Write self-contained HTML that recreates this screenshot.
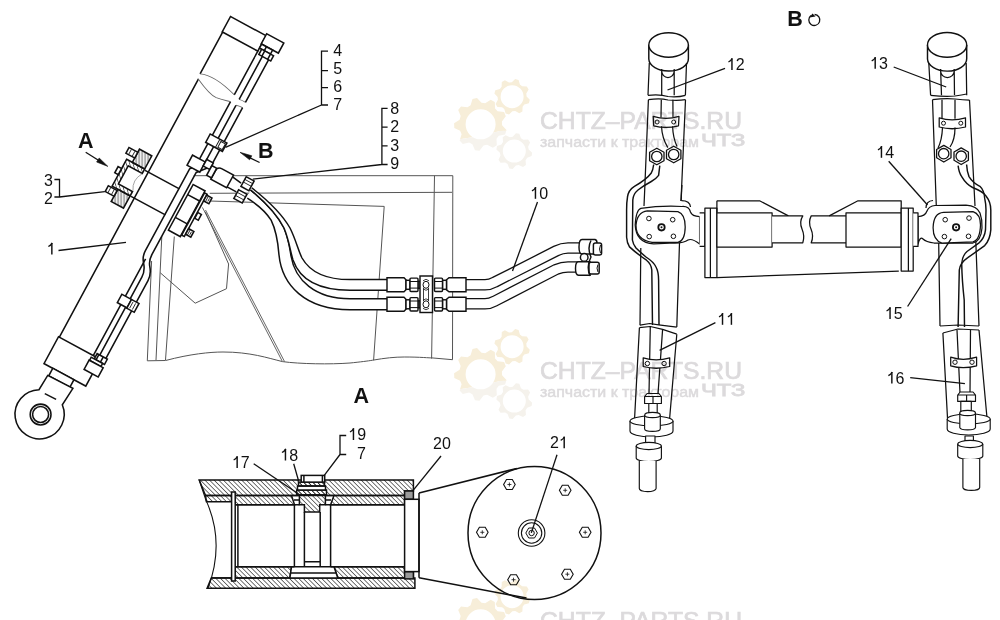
<!DOCTYPE html><html><head><meta charset="utf-8"><style>
html,body{margin:0;padding:0;background:#fff;width:1000px;height:620px;overflow:hidden}
svg{display:block;font-family:"Liberation Sans",sans-serif;will-change:transform}
</style></head><body>
<svg width="1000" height="620" viewBox="0 0 1000 620">
<defs>
<pattern id="hatch" width="3.25" height="4" patternUnits="userSpaceOnUse" patternTransform="rotate(-45)">
<line x1="0" y1="0" x2="0" y2="4" stroke="#111" stroke-width="1.15"/>
</pattern>
<pattern id="hatch2" width="3" height="4" patternUnits="userSpaceOnUse" patternTransform="rotate(-28.4)"><line x1="1" y1="0" x2="1" y2="4" stroke="#333" stroke-width="0.8"/></pattern>
<clipPath id="wmTop" clipPathUnits="userSpaceOnUse"><polygon points="440,60 540,60 540,130 500,131 480,136 455,140 440,141"/></clipPath><clipPath id="wmBot" clipPathUnits="userSpaceOnUse"><polygon points="440,141 455,140 480,136 500,131 540,130 540,200 440,200"/></clipPath>
</defs>
<rect width="1000" height="620" fill="#fff"/>

<path d="M199.2,480 L413.4,480 L413.4,491 L404.6,491 L404.6,495.5 L205.5,495.5 Z" fill="url(#hatch)" stroke="#111" stroke-width="1.5"/>
<path d="M205.5,495.5 L231.6,495.5 L231.6,501.8 L206.5,501.8 Z" fill="url(#hatch)" stroke="#111" stroke-width="1.5"/>
<path d="M235.2,495.5 L291.5,495.5 L294.5,504.8 L235.2,504.8 Z" fill="url(#hatch)" stroke="#111" stroke-width="1.5"/>
<path d="M334,495.5 L404.6,495.5 L404.6,504.8 L330.6,504.8 Z" fill="url(#hatch)" stroke="#111" stroke-width="1.5"/>
<path d="M299.4,495 L325.4,495 L325.4,504.7 L319.7,504.7 L319.7,512 L304.4,512 L304.4,504.7 L299.4,504.7 Z" fill="url(#hatch)" stroke="#111" stroke-width="1.5"/>
<path d="M291.5,495.5 L299.4,495.5 M294.5,504.8 L299.4,504.8 M294,500 L299.4,500 M325.4,495.5 L334,495.5 M325.4,504.8 L330.6,504.8 M325.4,500 L331,500" stroke="#111" stroke-width="1.5" fill="none"/>
<rect x="296.7" y="490" width="29.8" height="5" fill="url(#hatch)" stroke="#111" stroke-width="1.5"/>
<rect x="297.5" y="486" width="28" height="4" fill="#fff" stroke="#111" stroke-width="1.5"/>
<rect x="298.5" y="482.1" width="26" height="3.9" fill="url(#hatch)" stroke="#111" stroke-width="1.5"/>
<rect x="301.2" y="475.4" width="23.5" height="6.7" fill="#fff" stroke="#111" stroke-width="1.5"/>
<path d="M303.9,475.4 V482.1 M322.4,475.4 V482.1" stroke="#111" stroke-width="1.5"/>
<path d="M235.2,566.8 L291.5,566.8 L289.9,577.9 L235.2,577.9 Z" fill="url(#hatch)" stroke="#111" stroke-width="1.5"/>
<path d="M334,566.8 L404.6,566.8 L404.6,571.6 L413.4,571.6 L413.4,577.9 L337.8,577.9 Z" fill="url(#hatch)" stroke="#111" stroke-width="1.5"/>
<path d="M211.3,577.9 L414.9,577.9 L414.9,588.3 L207.1,588.3 Z" fill="url(#hatch)" stroke="#111" stroke-width="1.5"/>
<path d="M291.5,566.8 L334,566.8 L337.8,577.9 L289.9,577.9 Z M290.7,573 L336,573" fill="#fff" stroke="#111" stroke-width="1.5"/>
<path d="M294.4,504.8 V566.8 M304.4,512 V566.8 M320.2,512 V566.8 M330.6,504.8 V566.8 M304.4,561.7 H320.2" stroke="#111" stroke-width="1.5" fill="none"/>
<path d="M235.2,504.8 H294.4 M330.6,504.8 H404.6 M235.2,566.8 H294.4 M330.6,566.8 H404.6 M237.9,504.8 V566.8" stroke="#111" stroke-width="1.5" fill="none"/>
<rect x="231.6" y="492" width="3.6" height="89" fill="#fff" stroke="#111" stroke-width="1.5"/>
<path d="M206.5,501.4 Q225,543 208,588.3 M206.5,501.8 L199.2,480" stroke="#111" stroke-width="1.1" fill="none"/>
<path d="M211.3,577.9 H231.6" stroke="#111" stroke-width="1.5"/>
<rect x="404.6" y="491" width="8.8" height="8.3" fill="#9a9a9a" stroke="#111" stroke-width="1.5"/>
<rect x="404.6" y="571.6" width="8.8" height="7.3" fill="#9a9a9a" stroke="#111" stroke-width="1.5"/>
<rect x="404.6" y="499.3" width="14.4" height="72.3" fill="#fff" stroke="#111" stroke-width="1.5"/>
<path d="M419,493 V577.8" stroke="#111" stroke-width="1.5"/>
<path d="M419,493 L516.8,468.4 M419,577.8 L526.5,598" stroke="#111" stroke-width="1.5" fill="none"/>
<circle cx="534.5" cy="533" r="66.5" fill="none" stroke="#111" stroke-width="1.5"/>
<polygon points="515.2,484.5 512.3,489.5 506.5,489.5 503.6,484.5 506.5,479.5 512.3,479.5" fill="#fff" stroke="#111" stroke-width="1.1"/>
<path d="M507.4,484.5 H511.4 M509.4,482.5 V486.5" stroke="#111" stroke-width="0.8"/>
<polygon points="571.0,490.3 568.1,495.3 562.3,495.3 559.4,490.3 562.3,485.3 568.1,485.3" fill="#fff" stroke="#111" stroke-width="1.1"/>
<path d="M563.2,490.3 H567.2 M565.2,488.3 V492.3" stroke="#111" stroke-width="0.8"/>
<polygon points="488.1,532.3 485.2,537.3 479.4,537.3 476.5,532.3 479.4,527.3 485.2,527.3" fill="#fff" stroke="#111" stroke-width="1.1"/>
<path d="M480.3,532.3 H484.3 M482.3,530.3 V534.3" stroke="#111" stroke-width="0.8"/>
<polygon points="591.0,532.3 588.1,537.3 582.3,537.3 579.4,532.3 582.3,527.3 588.1,527.3" fill="#fff" stroke="#111" stroke-width="1.1"/>
<path d="M583.2,532.3 H587.2 M585.2,530.3 V534.3" stroke="#111" stroke-width="0.8"/>
<polygon points="519.3,579.7 516.4,584.7 510.6,584.7 507.7,579.7 510.6,574.7 516.4,574.7" fill="#fff" stroke="#111" stroke-width="1.1"/>
<path d="M511.5,579.7 H515.5 M513.5,577.7 V581.7" stroke="#111" stroke-width="0.8"/>
<polygon points="573.2,574.2 570.3,579.2 564.5,579.2 561.6,574.2 564.5,569.2 570.3,569.2" fill="#fff" stroke="#111" stroke-width="1.1"/>
<path d="M565.4,574.2 H569.4 M567.4,572.2 V576.2" stroke="#111" stroke-width="0.8"/>
<circle cx="531.6" cy="533" r="13.3" fill="none" stroke="#111" stroke-width="1.1"/>
<circle cx="531.6" cy="533" r="10.2" fill="none" stroke="#111" stroke-width="1.1"/>
<polygon points="537.4,533.0 534.5,538.0 528.7,538.0 525.8,533.0 528.7,528.0 534.5,528.0" fill="none" stroke="#111" stroke-width="1"/>
<circle cx="531.6" cy="533" r="2.7" fill="none" stroke="#111" stroke-width="1"/>
<g stroke="#555" stroke-width="1" fill="none">
<path d="M193.7,175.7 L452.8,175.7 L452.5,359.7"/>
<path d="M434.5,175.7 L431.6,358.6"/>
<path d="M209.7,193.3 L452,192.3"/>
<path d="M209.7,201 L384.2,206.4 L373.6,360.2"/>
<path d="M147.3,360.8 L165.6,360.5 C190,354 210,352 223,352 C250,352 268,358 282.4,361.6 C300,364 330,364.5 350,363 C360,362 368,361 372.7,360.2 C385,358 395,357 404.2,357 C420,357 430,358 432,357.9 L452.5,359.7"/>
<path d="M147.3,360.8 L151.6,261"/>
<path d="M156,360 L161.8,236.5"/>
<path d="M165.5,360 L174.3,236.5"/>
<path d="M160.3,272.8 L195.2,303.2 L226.5,288.7 L228.6,264 L205.3,211.8"/>
<path d="M202.4,207.4 L282.3,361.3 M205.5,210 L284.5,361.5" stroke-width="0.9"/>
</g>
<path d="M250.5,189.8 C264,201 277,214 284,228 C289,240 290,250 291,256 C295,280 315,298.8 350,298.8 L388,298.8 L388,309.8 L350,309.8 C305,309.8 282,285 279,255 C278,242 276,230 271.1,220.2 C266,212 255,203 247.3,198.2 Z" fill="#fff" stroke="none"/><path d="M250.5,189.8 C264,201 277,214 284,228 C289,240 290,250 291,256 C295,280 315,298.8 350,298.8 L388,298.8" fill="none" stroke="#111" stroke-width="1.5"/><path d="M247.3,198.2 C255,203 266,212 271.1,220.2 C276,230 278,242 279,255 C282,285 305,309.8 350,309.8 L388,309.8" fill="none" stroke="#111" stroke-width="1.5"/>
<path d="M251.8,187.9 C266,199 282,214 290,228 C296,240 298,250 302,258 C310,272 325,279.6 350,279.6 L388,279.6 L388,290.2 L350,290.2 C318,290.2 300,280 293,260 C290,250 289,240 284,228 C277,214 264,201 250.5,189.8 Z" fill="#fff" stroke="none"/><path d="M251.8,187.9 C266,199 282,214 290,228 C296,240 298,250 302,258 C310,272 325,279.6 350,279.6 L388,279.6" fill="none" stroke="#111" stroke-width="1.5"/><path d="M250.5,189.8 C264,201 277,214 284,228 C289,240 290,250 293,260 C300,280 318,290.2 350,290.2 L388,290.2" fill="none" stroke="#111" stroke-width="1.5"/>
<path d="M465,303.8 L485,303.8 Q490,303.8 495,301 L556,269.5 Q562,267 568,267 L582,267" stroke="#111" stroke-width="11.5" fill="none" stroke-linejoin="round"/><path d="M465,303.8 L485,303.8 Q490,303.8 495,301 L556,269.5 Q562,267 568,267 L582,267" stroke="#fff" stroke-width="8.9" fill="none" stroke-linejoin="round"/>
<path d="M465,284.8 L485,284.8 Q490,284.8 495,282 L556,251 Q562,248 568,248 L585,248" stroke="#111" stroke-width="11.5" fill="none" stroke-linejoin="round"/><path d="M465,284.8 L485,284.8 Q490,284.8 495,282 L556,251 Q562,248 568,248 L585,248" stroke="#fff" stroke-width="8.9" fill="none" stroke-linejoin="round"/>
<path d="M387,277.8 H404 L406,279.8 V289.8 L404,291.8 H387 Z" fill="#fff" stroke="#111" stroke-width="1.45"/>
<path d="M466,277.8 H449 L446.5,279.8 V289.8 L449,291.8 H466 Z" fill="#fff" stroke="#111" stroke-width="1.45"/>
<rect x="406" y="280.3" width="4" height="9" fill="#fff" stroke="#111" stroke-width="1.45"/>
<rect x="418" y="281.3" width="2" height="7" fill="#fff" stroke="#111" stroke-width="1.45"/>
<rect x="442.5" y="280.3" width="4" height="9" fill="#fff" stroke="#111" stroke-width="1.45"/>
<rect x="410" y="278.1" width="8" height="13.4" rx="1" fill="#fff" stroke="#111" stroke-width="1.45"/>
<path d="M410,281.5 H418 M410,288.1 H418" stroke="#111" stroke-width="1"/>
<rect x="434.5" y="278.1" width="8" height="13.4" rx="1" fill="#fff" stroke="#111" stroke-width="1.45"/>
<path d="M434.5,281.5 H442.5 M434.5,288.1 H442.5" stroke="#111" stroke-width="1"/>
<path d="M387,297.3 H404 L406,299.3 V309.3 L404,311.3 H387 Z" fill="#fff" stroke="#111" stroke-width="1.45"/>
<path d="M466,297.3 H449 L446.5,299.3 V309.3 L449,311.3 H466 Z" fill="#fff" stroke="#111" stroke-width="1.45"/>
<rect x="406" y="299.8" width="4" height="9" fill="#fff" stroke="#111" stroke-width="1.45"/>
<rect x="418" y="300.8" width="2" height="7" fill="#fff" stroke="#111" stroke-width="1.45"/>
<rect x="442.5" y="299.8" width="4" height="9" fill="#fff" stroke="#111" stroke-width="1.45"/>
<rect x="410" y="297.6" width="8" height="13.4" rx="1" fill="#fff" stroke="#111" stroke-width="1.45"/>
<path d="M410,301.0 H418 M410,307.6 H418" stroke="#111" stroke-width="1"/>
<rect x="434.5" y="297.6" width="8" height="13.4" rx="1" fill="#fff" stroke="#111" stroke-width="1.45"/>
<path d="M434.5,301.0 H442.5 M434.5,307.6 H442.5" stroke="#111" stroke-width="1"/>
<rect x="420" y="276" width="12.5" height="36.5" fill="#fff" stroke="#111" stroke-width="1.45"/>
<ellipse cx="426" cy="284.8" rx="3" ry="3.5" fill="none" stroke="#111" stroke-width="1"/>
<path d="M423,280.8 Q426,277.8 429,280.8 M423,288.8 Q426,291.8 429,288.8" fill="none" stroke="#111" stroke-width="0.8"/>
<ellipse cx="426" cy="304.3" rx="3" ry="3.5" fill="none" stroke="#111" stroke-width="1"/>
<path d="M423,300.3 Q426,297.3 429,300.3 M423,308.3 Q426,311.3 429,308.3" fill="none" stroke="#111" stroke-width="0.8"/>
<path d="M423.5,288 V301 M428.5,288 V301" stroke="#111" stroke-width="0.8"/>
<path d="M582,239.5 H595 Q597,240 597,243 V254 H582 Q579,254 579,247 Q579,239.5 582,239.5 Z" fill="#fff" stroke="#111" stroke-width="1.45"/>
<rect x="593.4" y="242.9" width="8.2" height="12.1" rx="2" fill="#fff" stroke="#111" stroke-width="1.45"/>
<path d="M578.5,261.8 H590 V275.3 H578.5 Q575.5,275 575.5,268.5 Q575.5,261.8 578.5,261.8 Z" fill="#fff" stroke="#111" stroke-width="1.45"/>
<rect x="589" y="262.3" width="10.2" height="11.6" rx="2" fill="#fff" stroke="#111" stroke-width="1.45"/>
<path d="M591,240.5 Q587,248 591,257 Q586,266 590,276" fill="none" stroke="#111" stroke-width="1.45"/>
<circle cx="584.2" cy="257.4" r="3.8" fill="#fff" stroke="#111" stroke-width="1.45"/>
<path d="M600.5,245 Q598.5,249 600.5,253 M598,264.5 Q596,268 598,272" fill="none" stroke="#111" stroke-width="1"/>
<g transform="translate(222.2,31.9) rotate(28.4)" fill="none" stroke-linejoin="miter">
<rect x="0" y="-17.5" width="40.5" height="17.5" fill="#fff" stroke="#111" stroke-width="1.55"/>
<rect x="40" y="-19.5" width="19.5" height="11.5" fill="#fff" stroke="#111" stroke-width="1.55"/>
<path d="M0.5,0 V47.4 M1.5,52.6 L2,346 M40.5,0 V49.6 M40.5,57.4 V125 M40.5,236 V352" stroke="#111" stroke-width="1.55"/>
<path d="M0.5,47.4 C8,44 22,44 40.5,49.6 M1,52.6 C10,57 20,61 26,60.7 C32,60 36,58.5 40.5,57.4 M47,51.3 Q50,50.5 54,51 M47,58 Q50,57 54,57" stroke="#666" stroke-width="0.9"/>
<path d="M47,2.5 V51.3 M47,58 V124 L36.5,136 V229 Q36.5,236 41,241 Q46,247 46,254 V342.5" stroke="#111" stroke-width="1.55"/>
<path d="M54,2.5 V51 M54,57 V124 L44,136 V229 Q44,236 48,241 Q53,247 53,254 V342.5" stroke="#111" stroke-width="1.55"/>
<rect x="40.5" y="-8" width="12.5" height="4.5" fill="#fff" stroke="#111" stroke-width="1.55"/>
<path d="M46,-8 V-3.5" stroke="#111" stroke-width="1.55"/>
<rect x="43" y="-3.5" width="13.5" height="6" fill="#fff" stroke="#111" stroke-width="1.55"/>
<path d="M46.5,-3.5 V2.5 M53,-3.5 V2.5" stroke="#111" stroke-width="1.55"/>
<rect x="38" y="95.5" width="19" height="9.5" fill="#fff" stroke="#111" stroke-width="1.55"/>
<path d="M49,95.5 V105 M51,97 H56 V103.5 H51 Z" stroke="#111" stroke-width="0.9"/>
<rect x="32.5" y="122.5" width="14.5" height="11.5" fill="#fff" stroke="#111" stroke-width="1.55"/>
<rect x="47" y="119.5" width="7.5" height="7.5" fill="#fff" stroke="#111" stroke-width="1.55"/>
<path d="M65,120.5 H78 V135 H60 V125.5 Q60,120.5 65,120.5 Z" fill="#fff" stroke="#111" stroke-width="1.55"/>
<rect x="54.5" y="122.5" width="5.5" height="11" fill="#fff" stroke="#111" stroke-width="1.55"/>
<path d="M78,122.5 L88.5,124 M78,134 L88.5,134" stroke="#111" stroke-width="1.55"/>
<rect x="90" y="116" width="9" height="11" fill="#fff" stroke="#111" stroke-width="1.55"/>
<path d="M90,119 H99 M90,122 H99" stroke="#111" stroke-width="0.8"/>
<rect x="89.5" y="131" width="9.5" height="10" fill="#fff" stroke="#111" stroke-width="1.55"/>
<path d="M89.5,134 H99 M89.5,137.5 H99" stroke="#111" stroke-width="0.8"/>
<path d="M-2,158.5 H37 M-2,188 H37" stroke="#111" stroke-width="1.55"/>
<rect x="-19.5" y="158.5" width="16.5" height="29.5" fill="#fff" stroke="none"/>
<path d="M-23.5,157.5 H-3 V162.5 H-19 V183 H-3 V188 H-23.5 Z" fill="url(#hatch)" stroke="#111" stroke-width="1.55"/>
<path d="M-3,163 Q-9,173 -3,182" stroke="#999" stroke-width="0.8"/>
<rect x="-17" y="142.5" width="14" height="15" fill="url(#hatch2)" stroke="#111" stroke-width="1.55"/>
<rect x="-17" y="188" width="14" height="14" fill="url(#hatch2)" stroke="#111" stroke-width="1.55"/>
<rect x="-27" y="146" width="10" height="6.5" fill="#fff" stroke="#111" stroke-width="1.55"/>
<path d="M-24,146.5 V152.5 M-20,146.5 V152.5" stroke="#111" stroke-width="0.8"/>
<rect x="-27" y="189.5" width="10" height="6.5" fill="#fff" stroke="#111" stroke-width="1.55"/>
<path d="M-24,189.5 V196 M-20,189.5 V196" stroke="#111" stroke-width="0.8"/>
<rect x="-27.5" y="168" width="4" height="7" fill="#fff" stroke="#111" stroke-width="1.55"/>
<rect x="47" y="148" width="13.5" height="52" fill="#fff" stroke="#111" stroke-width="1.55"/>
<path d="M47,159.5 H60.5 M47,185.5 H60.5" stroke="#111" stroke-width="1.55"/>
<rect x="61" y="150" width="3" height="48" fill="#fff" stroke="#111" stroke-width="1.55"/>
<rect x="64" y="151" width="6" height="6.5" fill="#fff" stroke="#111" stroke-width="1.55"/>
<rect x="64" y="189" width="6" height="6.5" fill="#fff" stroke="#111" stroke-width="1.55"/>
<path d="M66,151 V157.5 M68,152.5 V156 M66,189 V195.5 M68,190.5 V194" stroke="#111" stroke-width="0.8"/>
<rect x="64.5" y="170.5" width="4" height="6.5" fill="#fff" stroke="#111" stroke-width="1.55"/>
<rect x="36.5" y="278.5" width="11" height="9.5" fill="#fff" stroke="#111" stroke-width="1.55"/>
<rect x="47.5" y="278.5" width="8.5" height="10" fill="#fff" stroke="#111" stroke-width="1.55"/>
<path d="M50,280 V287 M53,280 V287" stroke="#111" stroke-width="0.8"/>
<rect x="1" y="346" width="47.5" height="30.5" fill="#fff" stroke="#111" stroke-width="1.55"/>
<rect x="43" y="342.5" width="11.6" height="6" fill="#fff" stroke="#111" stroke-width="1.55"/>
<path d="M45,342.5 V348.5 M50,342.5 V348.5" stroke="#111" stroke-width="1.55"/>
<rect x="39.5" y="348.5" width="13" height="3.5" fill="#fff" stroke="#111" stroke-width="1.55"/>
<rect x="39" y="352" width="16" height="10.5" fill="#fff" stroke="#111" stroke-width="1.55"/>
<rect x="11" y="376.5" width="24" height="8.5" fill="#fff" stroke="#111" stroke-width="1.55"/>
</g>
<path d="M47.7,375.4 L72.9,388.4 L62.3,404.8 A24.6,24.6 0 1 1 39,389.7 Z" fill="#fff" stroke="#111" stroke-width="1.55"/>
<circle cx="40.6" cy="414.5" r="10.4" fill="none" stroke="#111" stroke-width="1.55"/>
<circle cx="40.6" cy="414.5" r="8" fill="none" stroke="#111" stroke-width="1.55"/>
<path d="M44.8,393.6 L56.1,399.4" stroke="#111" stroke-width="1.55"/>
<g fill="none" stroke-linejoin="round">
<path d="M648.8,45 V59 A19.8,12.3 0 0 0 688.4,58.5 V45" fill="#fff" stroke="#111" stroke-width="1.45"/>
<ellipse cx="668.6" cy="45" rx="19.8" ry="12.3" fill="#fff" stroke="#111" stroke-width="1.45"/>
<path d="M649.3,63 L648,95.3 M686.5,63 L685.4,95.3" stroke="#111" stroke-width="1.25"/>
<path d="M661.7,69 V95.3 M674.2,69 V95.3 M661.7,71 A6.25,6.5 0 0 0 674.2,71" stroke="#111" stroke-width="1.25"/>
<path d="M648,95.3 Q660,94 668,96.5 Q678,97.5 685.4,95.3 M648.4,99.7 Q660,98 668,100 Q678,101 685.5,99.7" stroke="#111" stroke-width="1.25"/>
<path d="M648.4,99.7 L644.7,190 L644,206 M685.5,99.7 L681,201" stroke="#111" stroke-width="1.25"/>
<path d="M661.3,99.7 L661,117.4 M672.9,99.7 L673,117.4" stroke="#111" stroke-width="1.25"/>
<path d="M653.2,116.4 Q666,120.5 679,116.4 L678.5,125.8 Q666,129 653.7,125.8 Z" fill="#fff" stroke="#111" stroke-width="1.25"/>
<circle cx="657.1" cy="122" r="2" fill="none" stroke="#111" stroke-width="1"/><circle cx="673.7" cy="122" r="2" fill="none" stroke="#111" stroke-width="1"/>
<path d="M661.5,126.3 Q662,138 667.8,147.6 M672.6,126.3 Q673,138 677,146.4" stroke="#111" stroke-width="1.25"/>
<polygon points="664.0,160.7 656.8,164.8 649.6,160.7 649.6,152.3 656.8,148.2 664.0,152.3" fill="#fff" stroke="#111" stroke-width="1.3"/>
<circle cx="656.8" cy="156.5" r="5.2" fill="#fff" stroke="#111" stroke-width="1.3"/>
<polygon points="680.9,158.7 673.7,162.8 666.5,158.7 666.5,150.3 673.7,146.2 680.9,150.3" fill="#fff" stroke="#111" stroke-width="1.3"/>
<circle cx="673.7" cy="154.5" r="5.2" fill="#fff" stroke="#111" stroke-width="1.3"/>
<path d="M653.7,164.5 Q653,170 651.3,173 Q646,180 634.4,186.3 Q628.3,190 627.5,197 Q626.6,202 626.6,210 L626.6,237.2 Q627,243 629.5,246.9 Q636,253 646.5,260.2 Q651.3,264 651.8,270 L652.5,325" stroke="#111" stroke-width="1.45"/>
<path d="M659.8,165.7 L658.6,175.4 Q656,179 651.3,181.5 Q643,186 638,190 Q633.2,194 632.8,200 L632.4,240 Q633,244 636,248 Q640,252 646,257 Q653.7,262 656,267 Q658.6,272 658.6,280 L659,325" stroke="#111" stroke-width="1.45"/>
<path d="M681.9,185 L681.1,201" stroke="#111" stroke-width="1.25"/>
<path d="M640.8,208.4 Q660,205.5 682,206.5 Q689,206 690.5,212 Q692,216.5 699.6,216.5 V244 Q692,238 688,240 Q684,243 675,243 L653.7,243.9 Q636,243 635.2,225 Q636,210 640.8,208.4 Z" fill="#fff" stroke="#111" stroke-width="1.25"/>
<path d="M681.5,200.5 Q690,200.5 690.5,207" stroke="#111" stroke-width="1.25"/>
<path d="M647.3,210.8 L677.9,211.6 Q685.2,214 685.2,226.9 Q685,241 677.9,242.3 L652.1,242.3 Q636,240 636,225.3 Q637,212 647.3,210.8 Z" fill="#fff" stroke="#111" stroke-width="1.25"/>
<circle cx="648.9" cy="218.5" r="2.3" stroke="#111" stroke-width="1"/>
<circle cx="672.7" cy="219.7" r="2.3" stroke="#111" stroke-width="1"/>
<circle cx="649.2" cy="236.6" r="2.3" stroke="#111" stroke-width="1"/>
<circle cx="673.4" cy="236.3" r="2.3" stroke="#111" stroke-width="1"/>
<circle cx="661.5" cy="227.3" r="3.2" stroke="#111" stroke-width="1.8"/><circle cx="661.5" cy="227.3" r="1" fill="#111"/>
<path d="M640.8,247.9 L640,325.2 M679.5,243 L676.8,327.1" stroke="#111" stroke-width="1.25"/>
<path d="M640,325.2 L649.7,323.5 L658.7,324.8 L676.8,327.1 M639.4,327.7 L650.3,326.5 L662.6,329.4 L676.8,334.2" stroke="#111" stroke-width="1.25"/>
<path d="M639.4,327.7 L634.5,420 M676.8,334.2 L669.5,420" stroke="#111" stroke-width="1.25"/>
<path d="M650.3,326.5 L649,394 M662.6,329.4 L658,394" stroke="#111" stroke-width="1.25"/>
<path d="M643.2,357.8 Q656,362 669.7,357.8 V366.5 Q656,370 643.2,366.5 Z" fill="#fff" stroke="#111" stroke-width="1.25"/>
<circle cx="647.4" cy="363.5" r="2.2" stroke="#111" stroke-width="1"/><circle cx="664.1" cy="363.5" r="2.2" stroke="#111" stroke-width="1"/>
<path d="M644.6,396.5 L647.1,393.5 H658.9 L661.4,396.5 V403.5 H644.6 Z M644.6,396.5 H661.4 M653.0,396.5 V403.5" fill="#fff" stroke="#111" stroke-width="1.15"/>
<rect x="648.8" y="403.5" width="8.4" height="11.5" fill="#fff" stroke="#111" stroke-width="1.15"/>
<path d="M630,421 V431 A21.5,6 0 0 0 673,431 V421" fill="#fff" stroke="#111" stroke-width="1.15"/>
<ellipse cx="651.5" cy="421" rx="21.5" ry="5" fill="#fff" stroke="#111" stroke-width="1.15"/>
<path d="M644.6,415 V428.7 A7.8,2.6 0 0 0 660.3,428.7 V415" fill="#fff" stroke="#111" stroke-width="1.15"/>
<ellipse cx="652.5" cy="415" rx="7.8" ry="2.6" fill="#fff" stroke="#111" stroke-width="1.15"/>
<rect x="645.6" y="436" width="9.4" height="11.6" fill="#fff" stroke="#111" stroke-width="1.15"/>
<path d="M636.2,446 V458 A12.6,3.6 0 0 0 661.4,458 V446" fill="#fff" stroke="#111" stroke-width="1.15"/>
<ellipse cx="648.8" cy="446" rx="12.6" ry="3.6" fill="#fff" stroke="#111" stroke-width="1.15"/>
<path d="M639.3,461 V488.6 A8.4,3 0 0 0 656.1,488.6 V461" fill="#fff" stroke="#111" stroke-width="1.15"/>
<path d="M927.5,45 V59 A19.6,12.4 0 0 0 966.7,58.5 V45" fill="#fff" stroke="#111" stroke-width="1.45"/>
<ellipse cx="947.1" cy="44.9" rx="19.6" ry="12.4" fill="#fff" stroke="#111" stroke-width="1.45"/>
<path d="M928.8,63 L930.6,95.3 M966.2,63 L966.7,95.3" stroke="#111" stroke-width="1.25"/>
<path d="M940.6,69 L941.5,95.3 M954.2,69 L954.5,95.3 M940.6,71 A6.8,6.5 0 0 0 954.2,71" stroke="#111" stroke-width="1.25"/>
<path d="M930.6,95.3 Q945,97 955,96 Q962,95 966.7,94 M932.5,99.7 Q945,98 955,99 Q963,100 969.5,100" stroke="#111" stroke-width="1.25"/>
<path d="M932.5,99.7 L936.3,206 M969.5,100 L975,206" stroke="#111" stroke-width="1.25"/>
<path d="M942,99.7 V118.7 M955,99.7 V118.7" stroke="#111" stroke-width="1.25"/>
<path d="M939.2,117.8 Q952,122 965.5,117.8 V127 Q952,130.5 939.2,127 Z" fill="#fff" stroke="#111" stroke-width="1.25"/>
<circle cx="943.5" cy="123.2" r="2" stroke="#111" stroke-width="1"/><circle cx="960.8" cy="123.2" r="2" stroke="#111" stroke-width="1"/>
<path d="M942.5,127.5 Q942,140 938,148 M955,127.5 Q955,140 950,147" stroke="#111" stroke-width="1.25"/>
<polygon points="951.0,157.8 943.8,162.0 936.6,157.8 936.6,149.5 943.8,145.4 951.0,149.5" fill="#fff" stroke="#111" stroke-width="1.3"/>
<circle cx="943.7" cy="153.7" r="5.2" fill="#fff" stroke="#111" stroke-width="1.3"/>
<polygon points="968.4,160.3 961.2,164.5 954.0,160.3 954.0,152.0 961.2,147.9 968.4,152.0" fill="#fff" stroke="#111" stroke-width="1.3"/>
<circle cx="961.2" cy="156.2" r="5.2" fill="#fff" stroke="#111" stroke-width="1.3"/>
<path d="M958.1,165.7 Q959,173 961.7,176.6 Q966,184 972.6,187.5 Q984,192 986,196 Q990.8,202 990.8,210 L990.8,229.9 Q990,240 984.7,245.6 L967.8,257.7 Q960,263 959.3,270 L958.1,327" stroke="#111" stroke-width="1.45"/>
<path d="M966.6,164.5 Q967,172 969,176.6 Q973,183 979.9,186.3 Q984,190 984.7,198.4 Q986,204 986,210 L985.5,229.9 Q984.7,238 978.7,243.2 L967,251.5 Q962,256 961.7,263.8 Q962,280 964.2,300 L964.5,327" stroke="#111" stroke-width="1.45"/>
<path d="M918,216.5 Q925,216.5 927,211 Q929,206 935,205.5 L966,205.2 Q977,206 980,213 Q982.5,220 982,228 Q981,241 973,243 L934,243 Q926,242 923,239 Q920,236 918,244 Z" fill="#fff" stroke="#111" stroke-width="1.25"/>
<path d="M933,200.5 Q926,201 926,208" stroke="#111" stroke-width="1.25"/>
<path d="M943.5,212.4 L973,211.6 Q980.5,214 980.5,225 Q980,240 973,241.8 L941.9,243.1 Q933.1,240 933.1,227.7 Q933.5,213 943.5,212.4 Z" fill="#fff" stroke="#111" stroke-width="1.25"/>
<circle cx="945.2" cy="219.7" r="2.3" stroke="#111" stroke-width="1"/>
<circle cx="969" cy="218.1" r="2.3" stroke="#111" stroke-width="1"/>
<circle cx="944.4" cy="236.6" r="2.3" stroke="#111" stroke-width="1"/>
<circle cx="968.5" cy="236.3" r="2.3" stroke="#111" stroke-width="1"/>
<circle cx="956.1" cy="227.3" r="3.2" stroke="#111" stroke-width="1.8"/><circle cx="956.1" cy="227.3" r="1" fill="#111"/>
<path d="M938.7,243.1 L940,326 M975.8,241.5 L979,326" stroke="#111" stroke-width="1.25"/>
<path d="M940,326 L958,325 L979,326 M942.9,333 L958,329 L979,330" stroke="#111" stroke-width="1.25"/>
<path d="M942.9,333 L947.5,418 M979,330 L987,418" stroke="#111" stroke-width="1.25"/>
<path d="M957,330 L960,393 M970.5,330 L970,393" stroke="#111" stroke-width="1.25"/>
<path d="M950.7,357.2 Q963,361.5 976.6,357.2 V365.8 Q963,369.5 950.7,365.8 Z" fill="#fff" stroke="#111" stroke-width="1.25"/>
<circle cx="955" cy="362.2" r="2.2" stroke="#111" stroke-width="1"/><circle cx="972" cy="362.2" r="2.2" stroke="#111" stroke-width="1"/>
<path d="M957.7,395 L960.2,392 H973.0 L975.5,395 V401.4 H957.7 Z M957.7,395 H975.5 M966.6,395 V401.4" fill="#fff" stroke="#111" stroke-width="1.15"/>
<rect x="960.8" y="401.4" width="10.5" height="11.6" fill="#fff" stroke="#111" stroke-width="1.15"/>
<path d="M947.2,419 V429 A21.5,6 0 0 0 990.2,429 V419" fill="#fff" stroke="#111" stroke-width="1.15"/>
<ellipse cx="968.7" cy="419" rx="21.5" ry="5" fill="#fff" stroke="#111" stroke-width="1.15"/>
<path d="M959.8,413 V427.6 A7.9,2.6 0 0 0 975.5,427.6 V413" fill="#fff" stroke="#111" stroke-width="1.15"/>
<ellipse cx="967.6" cy="413" rx="7.9" ry="2.6" fill="#fff" stroke="#111" stroke-width="1.15"/>
<rect x="965" y="436" width="8.4" height="10.4" fill="#fff" stroke="#111" stroke-width="1.15"/>
<path d="M957.7,444 V456 A12.5,3.6 0 0 0 982.8,456 V444" fill="#fff" stroke="#111" stroke-width="1.15"/>
<ellipse cx="970.2" cy="444" rx="12.5" ry="3.6" fill="#fff" stroke="#111" stroke-width="1.15"/>
<path d="M962.9,459 V487.4 A8.4,3 0 0 0 979.7,487.4 V459" fill="#fff" stroke="#111" stroke-width="1.15"/>
<path d="M699.6,212.8 H704.9 V246.4 H699.6" fill="#fff" stroke="#111" stroke-width="1.25"/>
<rect x="704.9" y="208" width="12" height="69.6" fill="#fff" stroke="#111" stroke-width="1.25"/>
<path d="M710.4,208 V277.6" stroke="#111" stroke-width="1.25"/>
<path d="M716.9,200.8 H759.6 L788.4,215.9 M716.9,200.8 V212.8" stroke="#111" stroke-width="1.25"/>
<rect x="716.9" y="212.8" width="55.2" height="34.3" fill="#fff" stroke="#111" stroke-width="1.25"/>
<path d="M772.1,215.9 H802.8 Q799,222 802,229 Q805,236 802.8,242.8 H772.1" fill="#fff" stroke="#111" stroke-width="1.25"/>
<path d="M716.9,277.6 L898.8,271.1" stroke="#111" stroke-width="1.25"/>
<path d="M846,215.9 H811.2 Q808,222 811,229 Q814,236 811.2,242.8 H846" fill="#fff" stroke="#111" stroke-width="1.25"/>
<rect x="846" y="212.8" width="55.2" height="34.3" fill="#fff" stroke="#111" stroke-width="1.25"/>
<path d="M829.2,215.9 L858,200.8 H901.2 V212.8" stroke="#111" stroke-width="1.25"/>
<rect x="901.2" y="208" width="12" height="63.1" fill="#fff" stroke="#111" stroke-width="1.25"/>
<path d="M908.4,208 V271.1" stroke="#111" stroke-width="1.25"/>
<path d="M913.2,212.8 H918 V246.4 H913.2" fill="#fff" stroke="#111" stroke-width="1.25"/>
</g>
<g style="mix-blend-mode:multiply">
<g transform="translate(0,0)">
<g clip-path="url(#wmTop)"><path d="M506.5,129.9 L505.1,134.4 L498.8,135.8 L496.5,138.8 L496.8,145.3 L492.9,147.8 L487.1,144.8 L483.5,145.6 L479.5,150.8 L475.0,150.2 L472.4,144.2 L469.1,142.5 L462.8,143.9 L459.6,140.5 L461.6,134.3 L460.1,130.8 L454.3,127.9 L454.1,123.2 L459.6,119.7 L460.7,116.1 L458.2,110.1 L461.0,106.5 L467.5,107.3 L470.6,105.3 L472.5,99.1 L477.0,98.0 L481.5,102.8 L485.2,103.3 L490.7,99.8 L494.8,101.9 L495.1,108.4 L497.6,111.2 L504.1,112.0 L505.8,116.2 L501.9,121.4 L502.1,125.2 Z M495.6,124.3 A15,15 0 1 0 465.6,124.3 A15,15 0 1 0 495.6,124.3 Z" fill="#f7eed9" fill-rule="evenodd"/></g>
<g clip-path="url(#wmBot)"><path d="M506.5,129.9 L505.1,134.4 L498.8,135.8 L496.5,138.8 L496.8,145.3 L492.9,147.8 L487.1,144.8 L483.5,145.6 L479.5,150.8 L475.0,150.2 L472.4,144.2 L469.1,142.5 L462.8,143.9 L459.6,140.5 L461.6,134.3 L460.1,130.8 L454.3,127.9 L454.1,123.2 L459.6,119.7 L460.7,116.1 L458.2,110.1 L461.0,106.5 L467.5,107.3 L470.6,105.3 L472.5,99.1 L477.0,98.0 L481.5,102.8 L485.2,103.3 L490.7,99.8 L494.8,101.9 L495.1,108.4 L497.6,111.2 L504.1,112.0 L505.8,116.2 L501.9,121.4 L502.1,125.2 Z M495.6,124.3 A15,15 0 1 0 465.6,124.3 A15,15 0 1 0 495.6,124.3 Z" fill="#f6f3ed" fill-rule="evenodd"/></g>
<path d="M529.8,99.8 L528.9,103.2 L524.3,104.5 L522.6,106.7 L522.4,111.4 L519.3,113.2 L515.2,110.9 L512.4,111.2 L509.0,114.4 L505.6,113.5 L504.3,108.9 L502.1,107.2 L497.4,107.0 L495.6,103.9 L497.9,99.8 L497.6,97.0 L494.4,93.6 L495.3,90.2 L499.9,88.9 L501.6,86.7 L501.8,82.0 L504.9,80.2 L509.0,82.5 L511.8,82.2 L515.2,79.0 L518.6,79.9 L519.9,84.5 L522.1,86.2 L526.8,86.4 L528.6,89.5 L526.3,93.6 L526.6,96.4 Z M523.6,96.7 A11.5,11.5 0 1 0 500.6,96.7 A11.5,11.5 0 1 0 523.6,96.7 Z" fill="#f7eed9" fill-rule="evenodd"/>
<path d="M532.2,152.7 L531.6,156.1 L527.2,157.8 L525.6,160.2 L525.9,164.9 L523.0,166.9 L518.7,164.9 L515.9,165.5 L512.7,169.0 L509.3,168.4 L507.6,164.0 L505.2,162.4 L500.5,162.7 L498.5,159.8 L500.5,155.5 L499.9,152.7 L496.4,149.5 L497.0,146.1 L501.4,144.4 L503.0,142.0 L502.7,137.3 L505.6,135.3 L509.9,137.3 L512.7,136.7 L515.9,133.2 L519.3,133.8 L521.0,138.2 L523.4,139.8 L528.1,139.5 L530.1,142.4 L528.1,146.7 L528.7,149.5 Z M525.8,151.1 A11.5,11.5 0 1 0 502.79999999999995,151.1 A11.5,11.5 0 1 0 525.8,151.1 Z" fill="#f5f2ec" fill-rule="evenodd"/>
<text x="540" y="129.2" font-size="23.7" fill="#dcdadc" stroke="#dcdadc" stroke-width="0.7" textLength="202" lengthAdjust="spacingAndGlyphs">CHTZ–PARTS.RU</text>
<text x="540" y="146.8" font-size="13.8" fill="#dcdadc" stroke="#dcdadc" stroke-width="0.45" textLength="159" lengthAdjust="spacingAndGlyphs">запчасти к тракторам</text>
<text x="701" y="146.2" font-size="16.3" fill="#dcdadc" stroke="#dcdadc" stroke-width="0.8" textLength="44.5" lengthAdjust="spacingAndGlyphs">ЧТЗ</text>
</g>
<g transform="translate(0,250)">
<g clip-path="url(#wmTop)"><path d="M506.5,129.9 L505.1,134.4 L498.8,135.8 L496.5,138.8 L496.8,145.3 L492.9,147.8 L487.1,144.8 L483.5,145.6 L479.5,150.8 L475.0,150.2 L472.4,144.2 L469.1,142.5 L462.8,143.9 L459.6,140.5 L461.6,134.3 L460.1,130.8 L454.3,127.9 L454.1,123.2 L459.6,119.7 L460.7,116.1 L458.2,110.1 L461.0,106.5 L467.5,107.3 L470.6,105.3 L472.5,99.1 L477.0,98.0 L481.5,102.8 L485.2,103.3 L490.7,99.8 L494.8,101.9 L495.1,108.4 L497.6,111.2 L504.1,112.0 L505.8,116.2 L501.9,121.4 L502.1,125.2 Z M495.6,124.3 A15,15 0 1 0 465.6,124.3 A15,15 0 1 0 495.6,124.3 Z" fill="#f7eed9" fill-rule="evenodd"/></g>
<g clip-path="url(#wmBot)"><path d="M506.5,129.9 L505.1,134.4 L498.8,135.8 L496.5,138.8 L496.8,145.3 L492.9,147.8 L487.1,144.8 L483.5,145.6 L479.5,150.8 L475.0,150.2 L472.4,144.2 L469.1,142.5 L462.8,143.9 L459.6,140.5 L461.6,134.3 L460.1,130.8 L454.3,127.9 L454.1,123.2 L459.6,119.7 L460.7,116.1 L458.2,110.1 L461.0,106.5 L467.5,107.3 L470.6,105.3 L472.5,99.1 L477.0,98.0 L481.5,102.8 L485.2,103.3 L490.7,99.8 L494.8,101.9 L495.1,108.4 L497.6,111.2 L504.1,112.0 L505.8,116.2 L501.9,121.4 L502.1,125.2 Z M495.6,124.3 A15,15 0 1 0 465.6,124.3 A15,15 0 1 0 495.6,124.3 Z" fill="#f6f3ed" fill-rule="evenodd"/></g>
<path d="M529.8,99.8 L528.9,103.2 L524.3,104.5 L522.6,106.7 L522.4,111.4 L519.3,113.2 L515.2,110.9 L512.4,111.2 L509.0,114.4 L505.6,113.5 L504.3,108.9 L502.1,107.2 L497.4,107.0 L495.6,103.9 L497.9,99.8 L497.6,97.0 L494.4,93.6 L495.3,90.2 L499.9,88.9 L501.6,86.7 L501.8,82.0 L504.9,80.2 L509.0,82.5 L511.8,82.2 L515.2,79.0 L518.6,79.9 L519.9,84.5 L522.1,86.2 L526.8,86.4 L528.6,89.5 L526.3,93.6 L526.6,96.4 Z M523.6,96.7 A11.5,11.5 0 1 0 500.6,96.7 A11.5,11.5 0 1 0 523.6,96.7 Z" fill="#f7eed9" fill-rule="evenodd"/>
<path d="M532.2,152.7 L531.6,156.1 L527.2,157.8 L525.6,160.2 L525.9,164.9 L523.0,166.9 L518.7,164.9 L515.9,165.5 L512.7,169.0 L509.3,168.4 L507.6,164.0 L505.2,162.4 L500.5,162.7 L498.5,159.8 L500.5,155.5 L499.9,152.7 L496.4,149.5 L497.0,146.1 L501.4,144.4 L503.0,142.0 L502.7,137.3 L505.6,135.3 L509.9,137.3 L512.7,136.7 L515.9,133.2 L519.3,133.8 L521.0,138.2 L523.4,139.8 L528.1,139.5 L530.1,142.4 L528.1,146.7 L528.7,149.5 Z M525.8,151.1 A11.5,11.5 0 1 0 502.79999999999995,151.1 A11.5,11.5 0 1 0 525.8,151.1 Z" fill="#f5f2ec" fill-rule="evenodd"/>
<text x="540" y="129.2" font-size="23.7" fill="#dcdadc" stroke="#dcdadc" stroke-width="0.7" textLength="202" lengthAdjust="spacingAndGlyphs">CHTZ–PARTS.RU</text>
<text x="540" y="146.8" font-size="13.8" fill="#dcdadc" stroke="#dcdadc" stroke-width="0.45" textLength="159" lengthAdjust="spacingAndGlyphs">запчасти к тракторам</text>
<text x="701" y="146.2" font-size="16.3" fill="#dcdadc" stroke="#dcdadc" stroke-width="0.8" textLength="44.5" lengthAdjust="spacingAndGlyphs">ЧТЗ</text>
</g>
<g transform="translate(0,500)">
<g clip-path="url(#wmTop)"><path d="M506.5,129.9 L505.1,134.4 L498.8,135.8 L496.5,138.8 L496.8,145.3 L492.9,147.8 L487.1,144.8 L483.5,145.6 L479.5,150.8 L475.0,150.2 L472.4,144.2 L469.1,142.5 L462.8,143.9 L459.6,140.5 L461.6,134.3 L460.1,130.8 L454.3,127.9 L454.1,123.2 L459.6,119.7 L460.7,116.1 L458.2,110.1 L461.0,106.5 L467.5,107.3 L470.6,105.3 L472.5,99.1 L477.0,98.0 L481.5,102.8 L485.2,103.3 L490.7,99.8 L494.8,101.9 L495.1,108.4 L497.6,111.2 L504.1,112.0 L505.8,116.2 L501.9,121.4 L502.1,125.2 Z M495.6,124.3 A15,15 0 1 0 465.6,124.3 A15,15 0 1 0 495.6,124.3 Z" fill="#f7eed9" fill-rule="evenodd"/></g>
<g clip-path="url(#wmBot)"><path d="M506.5,129.9 L505.1,134.4 L498.8,135.8 L496.5,138.8 L496.8,145.3 L492.9,147.8 L487.1,144.8 L483.5,145.6 L479.5,150.8 L475.0,150.2 L472.4,144.2 L469.1,142.5 L462.8,143.9 L459.6,140.5 L461.6,134.3 L460.1,130.8 L454.3,127.9 L454.1,123.2 L459.6,119.7 L460.7,116.1 L458.2,110.1 L461.0,106.5 L467.5,107.3 L470.6,105.3 L472.5,99.1 L477.0,98.0 L481.5,102.8 L485.2,103.3 L490.7,99.8 L494.8,101.9 L495.1,108.4 L497.6,111.2 L504.1,112.0 L505.8,116.2 L501.9,121.4 L502.1,125.2 Z M495.6,124.3 A15,15 0 1 0 465.6,124.3 A15,15 0 1 0 495.6,124.3 Z" fill="#f6f3ed" fill-rule="evenodd"/></g>
<path d="M529.8,99.8 L528.9,103.2 L524.3,104.5 L522.6,106.7 L522.4,111.4 L519.3,113.2 L515.2,110.9 L512.4,111.2 L509.0,114.4 L505.6,113.5 L504.3,108.9 L502.1,107.2 L497.4,107.0 L495.6,103.9 L497.9,99.8 L497.6,97.0 L494.4,93.6 L495.3,90.2 L499.9,88.9 L501.6,86.7 L501.8,82.0 L504.9,80.2 L509.0,82.5 L511.8,82.2 L515.2,79.0 L518.6,79.9 L519.9,84.5 L522.1,86.2 L526.8,86.4 L528.6,89.5 L526.3,93.6 L526.6,96.4 Z M523.6,96.7 A11.5,11.5 0 1 0 500.6,96.7 A11.5,11.5 0 1 0 523.6,96.7 Z" fill="#f7eed9" fill-rule="evenodd"/>
<path d="M532.2,152.7 L531.6,156.1 L527.2,157.8 L525.6,160.2 L525.9,164.9 L523.0,166.9 L518.7,164.9 L515.9,165.5 L512.7,169.0 L509.3,168.4 L507.6,164.0 L505.2,162.4 L500.5,162.7 L498.5,159.8 L500.5,155.5 L499.9,152.7 L496.4,149.5 L497.0,146.1 L501.4,144.4 L503.0,142.0 L502.7,137.3 L505.6,135.3 L509.9,137.3 L512.7,136.7 L515.9,133.2 L519.3,133.8 L521.0,138.2 L523.4,139.8 L528.1,139.5 L530.1,142.4 L528.1,146.7 L528.7,149.5 Z M525.8,151.1 A11.5,11.5 0 1 0 502.79999999999995,151.1 A11.5,11.5 0 1 0 525.8,151.1 Z" fill="#f5f2ec" fill-rule="evenodd"/>
<text x="540" y="129.2" font-size="23.7" fill="#dcdadc" stroke="#dcdadc" stroke-width="0.7" textLength="202" lengthAdjust="spacingAndGlyphs">CHTZ–PARTS.RU</text>
<text x="540" y="146.8" font-size="13.8" fill="#dcdadc" stroke="#dcdadc" stroke-width="0.45" textLength="159" lengthAdjust="spacingAndGlyphs">запчасти к тракторам</text>
<text x="701" y="146.2" font-size="16.3" fill="#dcdadc" stroke="#dcdadc" stroke-width="0.8" textLength="44.5" lengthAdjust="spacingAndGlyphs">ЧТЗ</text>
</g>
</g>
<g font-size="16" fill="#111">
<text x="333.20" y="56">4</text>
<text x="333.20" y="74">5</text>
<text x="333.20" y="92">6</text>
<text x="333.20" y="110">7</text>
<text x="390.20" y="114">8</text>
<text x="390.20" y="132.2">2</text>
<text x="390.20" y="150.5">3</text>
<text x="390.20" y="168.5">9</text>
<text x="43.90" y="185.5">3</text>
<text x="43.90" y="203.7">2</text>
<path d="M51.85,242.90 V254.50" stroke="#111" stroke-width="1.45" fill="none"/><path d="M48.35,246.50 Q50.95,245.30 52.15,242.90" stroke="#111" stroke-width="1.35" fill="none"/>
<path d="M535.45,187.20 V198.80" stroke="#111" stroke-width="1.45" fill="none"/><path d="M531.95,190.80 Q534.55,189.60 535.75,187.20" stroke="#111" stroke-width="1.35" fill="none"/><text x="539.15" y="198.8">0</text>
<path d="M353.45,428.40 V440.00" stroke="#111" stroke-width="1.45" fill="none"/><path d="M349.95,432.00 Q352.55,430.80 353.75,428.40" stroke="#111" stroke-width="1.35" fill="none"/><text x="357.15" y="440">9</text>
<text x="357.00" y="459.2">7</text>
<path d="M285.45,448.90 V460.50" stroke="#111" stroke-width="1.45" fill="none"/><path d="M281.95,452.50 Q284.55,451.30 285.75,448.90" stroke="#111" stroke-width="1.35" fill="none"/><text x="289.15" y="460.5">8</text>
<path d="M237.15,456.40 V468.00" stroke="#111" stroke-width="1.45" fill="none"/><path d="M233.65,460.00 Q236.25,458.80 237.45,456.40" stroke="#111" stroke-width="1.35" fill="none"/><text x="240.85" y="468">7</text>
<text x="433.00" y="449">2</text><text x="441.90" y="449">0</text>
<text x="550.10" y="448.3">2</text><path d="M564.20,436.70 V448.30" stroke="#111" stroke-width="1.45" fill="none"/><path d="M560.70,440.30 Q563.30,439.10 564.50,436.70" stroke="#111" stroke-width="1.35" fill="none"/>
<path d="M731.95,58.40 V70.00" stroke="#111" stroke-width="1.45" fill="none"/><path d="M728.45,62.00 Q731.05,60.80 732.25,58.40" stroke="#111" stroke-width="1.35" fill="none"/><text x="735.65" y="70">2</text>
<path d="M875.20,57.20 V68.80" stroke="#111" stroke-width="1.45" fill="none"/><path d="M871.70,60.80 Q874.30,59.60 875.50,57.20" stroke="#111" stroke-width="1.35" fill="none"/><text x="878.90" y="68.8">3</text>
<path d="M881.45,146.20 V157.80" stroke="#111" stroke-width="1.45" fill="none"/><path d="M877.95,149.80 Q880.55,148.60 881.75,146.20" stroke="#111" stroke-width="1.35" fill="none"/><text x="885.15" y="157.8">4</text>
<path d="M890.05,307.40 V319.00" stroke="#111" stroke-width="1.45" fill="none"/><path d="M886.55,311.00 Q889.15,309.80 890.35,307.40" stroke="#111" stroke-width="1.35" fill="none"/><text x="893.75" y="319">5</text>
<path d="M891.85,372.00 V383.60" stroke="#111" stroke-width="1.45" fill="none"/><path d="M888.35,375.60 Q890.95,374.40 892.15,372.00" stroke="#111" stroke-width="1.35" fill="none"/><text x="895.55" y="383.6">6</text>
<path d="M722.52,313.20 V324.80" stroke="#111" stroke-width="1.45" fill="none"/><path d="M719.02,316.80 Q721.62,315.60 722.82,313.20" stroke="#111" stroke-width="1.35" fill="none"/><path d="M731.42,313.20 V324.80" stroke="#111" stroke-width="1.45" fill="none"/><path d="M727.92,316.80 Q730.52,315.60 731.72,313.20" stroke="#111" stroke-width="1.35" fill="none"/>
</g>
<g font-size="21.5" font-weight="bold" fill="#111">
<text x="78" y="147.5">A</text><text x="258" y="157.5">B</text><text x="353.5" y="402.5">A</text><text x="787.2" y="26">B</text>
</g>
<g stroke="#111" stroke-width="1.3" fill="none">
<path d="M328,51.2 H321.5 V105 H328 M321.5,70.6 H328 M321.5,87.6 H328 M321.5,105 L225.5,147.3"/>
<path d="M387.6,108.3 H381.9 V164.5 H387.6 M381.9,127.2 H387.6 M381.9,145.8 H387.6 M381.9,164.5 L252.8,179.2"/>
<path d="M54.4,179.5 H59.5 V197 H54.4 M59.5,197 L104.8,191.6"/>
<path d="M58.5,250.5 L126,242.4"/>
<path d="M537.5,202 L512.5,271"/>
<path d="M346.2,435.5 H340 V454.5 H346.2 M340,454.5 L323.7,476.2"/>
<path d="M293.7,463.7 L298.7,481.2"/><path d="M253.7,463.7 L300,495"/>
<path d="M441,456 L412.5,491.2"/><path d="M557,454.8 L531.3,532.9"/>
<path d="M725,68.4 L667.5,90"/><path d="M893.7,67 L946.2,87"/>
<path d="M888.7,161.2 L927.5,205"/><path d="M951.2,238.7 L907.6,306.5"/>
<path d="M715.4,322.6 L659.6,350.3"/><path d="M910.2,377.6 L964.9,383.6"/>
</g>
<g stroke="#111" stroke-width="1.3" fill="#111">
<line x1="85.7" y1="152.3" x2="100" y2="161.3"/><polygon points="107.9,166.4 99.2,158 96.6,162" stroke-width="0.6"/>
<line x1="259.6" y1="162.5" x2="249" y2="157.3"/><polygon points="240,152.3 251.8,155.8 249.6,159.8" stroke-width="0.6"/>
</g>
<path d="M811,15.6 A5.5,5.5 0 1 0 814.6,14.5" fill="none" stroke="#111" stroke-width="1.3"/><polygon points="812.5,13.5 809.5,17.5 815.5,16.5" fill="#111"/>
<!--PARTS-->
</svg></body></html>
